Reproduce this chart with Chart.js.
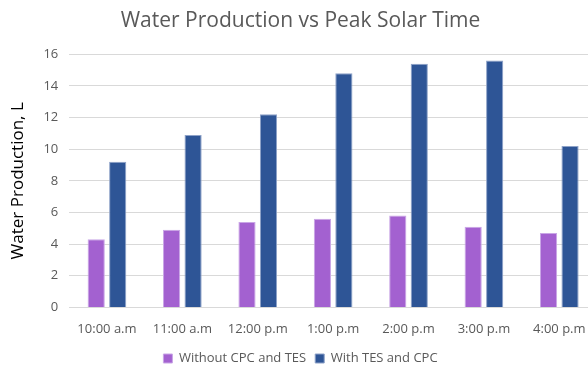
<!DOCTYPE html>
<html>
<head>
<meta charset="utf-8">
<script src="https://cdn.jsdelivr.net/npm/chart.js@4"></script>
<style>
  html, body { margin: 0; padding: 0; background: #fff; overflow: hidden; }
  #wrap { width: 644px; height: 375px; }
</style>
</head>
<body>
<div id="wrap"><canvas id="myChart"></canvas></div>
<script>
const times = ['10:00 a.m', '11:00 a.m', '12:00 p.m', '1:00 p.m', '2:00 p.m', '3:00 p.m', '4:00 p.m'];
const withoutCpcTes = [4.3, 4.9, 5.4, 5.6, 5.8, 5.1, 4.7];
const withTesCpc = [9.2, 10.9, 12.2, 14.8, 15.4, 15.6, 10.2];

const fontFamily = "'Open Sans', sans-serif";
const gray = '#595959';

const config = {
  type: 'bar',
  data: {
    labels: times,
    datasets: [
      {
        label: 'Without CPC and TES',
        data: withoutCpcTes,
        backgroundColor: '#a361d0',
        borderColor: '#c9a6e6',
        borderWidth: 1,
        categoryPercentage: 0.57,
        barPercentage: 0.8,
      },
      {
        label: 'With TES and CPC',
        data: withTesCpc,
        backgroundColor: '#2e5596',
        borderColor: '#8ea2c8',
        borderWidth: 1,
        categoryPercentage: 0.57,
        barPercentage: 0.8,
      },
    ],
  },
  options: {
    responsive: true,
    maintainAspectRatio: false,
    animation: false,
    layout: { padding: { left: 4, right: 47, top: 8, bottom: 0 } },
    plugins: {
      title: {
        display: true,
        text: 'Water Production vs Peak Solar Time',
        color: gray,
        font: { family: fontFamily, size: 21, weight: 'normal' },
        padding: { top: 0, bottom: 21 },
      },
      legend: {
        position: 'bottom',
        labels: {
          color: gray,
          font: { family: fontFamily, size: 13 },
          boxWidth: 9,
          boxHeight: 9,
          padding: 9,
        },
      },
      tooltip: { enabled: false },
    },
    scales: {
      x: {
        grid: { display: false },
        border: { color: '#d9d9d9' },
        ticks: { color: gray, font: { family: fontFamily, size: 13 }, maxRotation: 0, padding: 6 },
      },
      y: {
        min: 0,
        max: 16,
        ticks: { stepSize: 2, color: gray, font: { family: fontFamily, size: 13 }, padding: 11 },
        grid: { color: '#d9d9d9', drawTicks: false },
        border: { display: false },
        title: {
          display: true,
          text: 'Water Production, L',
          color: '#000',
          font: { family: fontFamily, size: 17 },
          padding: { bottom: 4 },
        },
      },
    },
  },
};

new Chart(document.getElementById('myChart'), config);
</script>
</body>
</html>
